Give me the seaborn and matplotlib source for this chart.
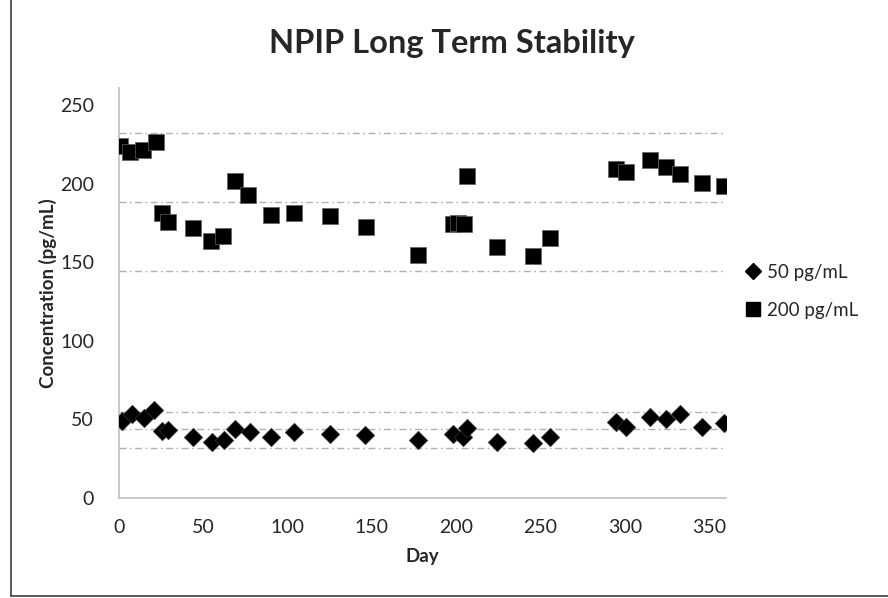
import matplotlib
matplotlib.use("Agg")
import matplotlib.pyplot as plt
from matplotlib.lines import Line2D
import seaborn as sns
import pandas as pd

# days and concentrations
days_50 = [1.6, 7.7, 14.7, 21, 25.8, 29.2, 44, 54.9, 62.1, 69, 77.4, 90, 104, 125, 146,
           177.4, 197.8, 204.2, 206.5, 224.4, 245.4, 255.8, 294.6, 300.8, 314.7, 324.6,
           332.6, 345.8, 358.7]
conc_50 = [49.2, 53.2, 50.7, 55.8, 42.8, 43.3, 39, 35.6, 36.7, 43.7, 42, 38.8, 41.8, 40.7, 40.1,
           36.9, 40.5, 38.6, 44.3, 35.4, 35, 39, 48.3, 45.4, 51.7, 50.3,
           53.2, 45, 47.5]

days_200 = [0.6, 6.7, 14.5, 21.8, 25.8, 29, 43.8, 54.8, 61.9, 69, 76.8, 90, 104, 125.2, 146.2,
            177.4, 198, 201, 204.6, 206.4, 224.4, 245.4, 255.5, 294.8, 300.8, 314.7, 324.6,
            332.6, 345.8, 358.7]
conc_200 = [224.1, 220.1, 221.6, 226.5, 181.7, 176, 172, 163.3, 167.1, 201.5, 193.2, 180.2, 181.7, 179.6, 172.6,
            154.6, 174.3, 175, 174.7, 205, 159.5, 154, 165.6, 209.5, 207.4, 215, 211,
            206.5, 200.8, 198.5]

# control limit lines
limits_200 = [232.4, 188.5, 144.8]
limits_50 = [54.9, 43.7, 32.0]

x_ticks = [0, 50, 100, 150, 200, 250, 300, 350]
y_ticks = [0, 50, 100, 150, 200, 250]

df50 = pd.DataFrame({"Day": days_50, "Conc": conc_50})
df200 = pd.DataFrame({"Day": days_200, "Conc": conc_200})

sns.set_style("white")
plt.rcParams["font.family"] = ["Lato", "DejaVu Sans"]

fig = plt.figure(figsize=(8.88, 5.98), dpi=100)
ax = fig.add_axes([0.134, 0.1672, 0.6836, 0.6856])

for v in limits_200 + limits_50:
    ax.axhline(v, color="#b0b0b0", lw=1, linestyle=(0, (5, 2.5, 1.2, 2.5)), zorder=1)

sns.scatterplot(data=df50, x="Day", y="Conc", marker="D", s=90, color="black",
                edgecolor="#404040", linewidth=0.4, ax=ax, zorder=3)
sns.scatterplot(data=df200, x="Day", y="Conc", marker="s", s=120, color="black",
                edgecolor="#606060", linewidth=0.5, ax=ax, zorder=3)

ax.set_xlim(0, 360)
ax.set_ylim(0, 261)
ax.set_xticks(x_ticks)
ax.set_yticks(y_ticks)
ax.tick_params(length=0, labelsize=14)
ax.tick_params(axis="x", pad=15)
ax.tick_params(axis="y", pad=18)
for s in ["top", "right"]:
    ax.spines[s].set_visible(False)
for s in ["left", "bottom"]:
    ax.spines[s].set_color("#bfbfbf")
    ax.spines[s].set_linewidth(1.2)

ax.set_xlabel("Day", fontsize=13.5, fontweight="bold", labelpad=9)
ax.set_ylabel("Concentration (pg/mL)", fontsize=13.5, fontweight="bold", labelpad=2)

fig.text(0.509, 0.928, "NPIP Long Term Stability", ha="center", va="center",
         fontsize=23.5, fontweight="bold")

handles = [
    Line2D([], [], marker="D", color="black", linestyle="none", markersize=8),
    Line2D([], [], marker="s", color="black", linestyle="none", markersize=10),
]
fig.legend(handles, ["50 pg/mL", "200 pg/mL"], loc="center left",
           bbox_to_anchor=(0.816, 0.513), frameon=False, fontsize=13.5,
           handletextpad=0.15, labelspacing=1.1, handlelength=1.2)

# outer chart border (left and bottom visible)
fig.add_artist(Line2D([0.0124, 0.0124], [0.004, 1.2], color="#404040", lw=1.2,
                      transform=fig.transFigure))
fig.add_artist(Line2D([0.0124, 1.2], [0.004, 0.004], color="#404040", lw=1.2,
                      transform=fig.transFigure))

fig.savefig("out.png", dpi=100)
